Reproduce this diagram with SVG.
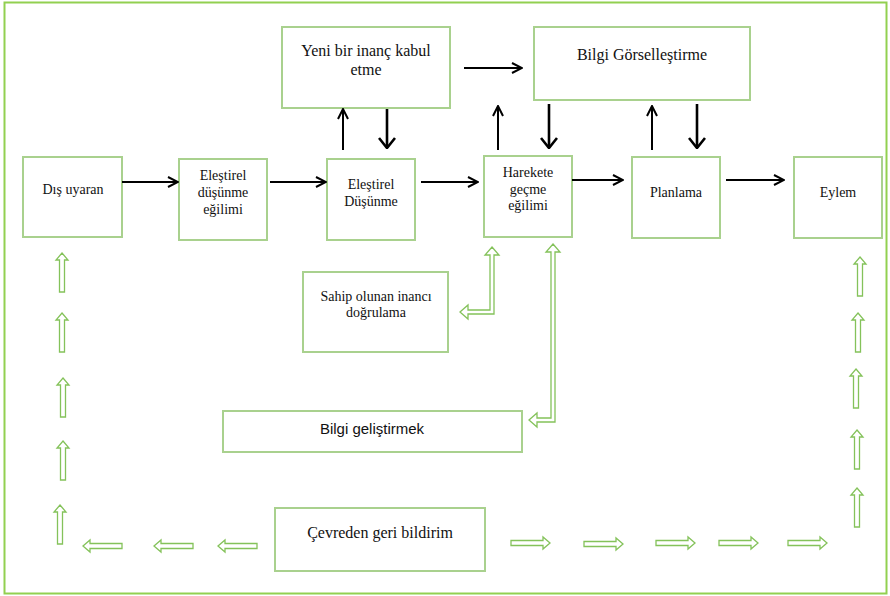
<svg xmlns="http://www.w3.org/2000/svg" width="890" height="596" viewBox="0 0 890 596">
  <style>
    .frame { fill: none; stroke: #92d050; stroke-width: 2; }
    .box { fill: #ffffff; stroke: #a9d18e; stroke-width: 2; }
    .t { font-family: "Liberation Serif", "Times New Roman", serif; font-size: 14px; fill: #111; text-anchor: middle; }
    .tl { font-family: "Liberation Serif", "Times New Roman", serif; font-size: 16px; fill: #111; text-anchor: middle; }
    .ts { font-family: "Liberation Sans", Arial, sans-serif; font-size: 15px; fill: #111; text-anchor: middle; }
    .link { stroke: #000; stroke-width: 2; fill: none; }
    .link-bold { stroke: #000; stroke-width: 2.6; fill: none; }
    .hollow { fill: #ffffff; stroke: #84c25a; stroke-width: 1.3; stroke-linejoin: miter; }
  </style>
  <defs>
    <marker id="head" viewBox="0 0 12 12" refX="11" refY="6" markerWidth="12" markerHeight="12" markerUnits="userSpaceOnUse" orient="auto">
      <path d="M1,1 L11,6 L1,11" fill="none" stroke="#000" stroke-width="2"/>
    </marker>
    <marker id="headBig" viewBox="0 0 12 18" refX="11" refY="9" markerWidth="12" markerHeight="18" markerUnits="userSpaceOnUse" orient="auto">
      <path d="M1,1 L11,9 L1,17" fill="none" stroke="#000" stroke-width="2.6"/>
    </marker>
    <!-- hollow block arrow, tip at origin pointing up -->
    <path id="ha" d="M0,0 L6,7 H2.5 V39 H-2.5 V7 H-6 Z"/>
  </defs>

  <rect class="frame" x="4.5" y="2.5" width="882" height="591"/>

  <g id="nodes">
    <g id="dis-uyaran">
      <rect class="box" x="23" y="157" width="99" height="80"/>
      <text class="t" x="73" y="194">Dış uyaran</text>
    </g>
    <g id="elestirel-dusunme-egilimi">
      <rect class="box" x="179" y="159" width="88" height="81"/>
      <text class="t" x="223" y="180">Eleştirel</text>
      <text class="t" x="223" y="197">düşünme</text>
      <text class="t" x="223" y="214">eğilimi</text>
    </g>
    <g id="yeni-inanc">
      <rect class="box" x="282" y="27" width="168" height="81"/>
      <text class="tl" x="366" y="56">Yeni bir inanç kabul</text>
      <text class="tl" x="366" y="75">etme</text>
    </g>
    <g id="elestirel-dusunme">
      <rect class="box" x="327" y="159" width="88" height="81"/>
      <text class="t" x="371" y="189">Eleştirel</text>
      <text class="t" x="371" y="206">Düşünme</text>
    </g>
    <g id="harekete-gecme">
      <rect class="box" x="484" y="156" width="88" height="81"/>
      <text class="t" x="528" y="177">Harekete</text>
      <text class="t" x="528" y="194">geçme</text>
      <text class="t" x="528" y="210">eğilimi</text>
    </g>
    <g id="bilgi-gorsellestirme">
      <rect class="box" x="534" y="27" width="216" height="73"/>
      <text class="tl" x="642" y="60">Bilgi Görselleştirme</text>
    </g>
    <g id="planlama">
      <rect class="box" x="632" y="157" width="88" height="81"/>
      <text class="t" x="676" y="197">Planlama</text>
    </g>
    <g id="eylem">
      <rect class="box" x="794" y="157" width="88" height="81"/>
      <text class="t" x="838" y="197">Eylem</text>
    </g>
    <g id="sahip-olunan-inanc">
      <rect class="box" x="303" y="272" width="145" height="80"/>
      <text class="t" x="376" y="301">Sahip olunan inancı</text>
      <text class="t" x="376" y="317">doğrulama</text>
    </g>
    <g id="bilgi-gelistirmek">
      <rect class="box" x="223" y="411" width="299" height="41"/>
      <text class="ts" x="372" y="434">Bilgi geliştirmek</text>
    </g>
    <g id="cevreden-geri-bildirim">
      <rect class="box" x="275" y="508" width="210" height="63"/>
      <text class="tl" x="380" y="538">Çevreden geri bildirim</text>
    </g>
  </g>

  <g id="connectors">
    <!-- main flow -->
    <line class="link" x1="122" y1="182" x2="178" y2="182" marker-end="url(#head)"/>
    <line class="link" x1="270" y1="182" x2="326" y2="182" marker-end="url(#head)"/>
    <line class="link" x1="421" y1="182" x2="478" y2="182" marker-end="url(#head)"/>
    <line class="link" x1="572" y1="180" x2="623" y2="180" marker-end="url(#head)"/>
    <line class="link" x1="726" y1="180" x2="784" y2="180" marker-end="url(#head)"/>
    <line class="link" x1="464" y1="68" x2="522" y2="68" marker-end="url(#head)"/>
    <!-- vertical exchanges -->
    <line class="link" x1="343" y1="150" x2="343" y2="109" marker-end="url(#head)"/>
    <line class="link-bold" x1="387" y1="109" x2="387" y2="148" marker-end="url(#headBig)"/>
    <line class="link" x1="498" y1="150" x2="498" y2="106" marker-end="url(#head)"/>
    <line class="link-bold" x1="549" y1="104" x2="549" y2="148" marker-end="url(#headBig)"/>
    <line class="link" x1="652" y1="150" x2="652" y2="106" marker-end="url(#head)"/>
    <line class="link-bold" x1="697" y1="104" x2="697" y2="148" marker-end="url(#headBig)"/>

    <!-- hollow elbow arrows -->
    <path class="hollow" d="M492,247 L499,255 H494 V314 H468 V319 L460,312 L468,305 V310 H490 V255 H485 Z"/>
    <path class="hollow" d="M553,244 L560,252 H555 V422 H537 V427 L529,420 L537,413 V418 H551 V252 H546 Z"/>

    <!-- feedback loop: left column (up) -->
    <use href="#ha" class="hollow" transform="translate(62,253)"/>
    <use href="#ha" class="hollow" transform="translate(62,313)"/>
    <use href="#ha" class="hollow" transform="translate(63,378)"/>
    <use href="#ha" class="hollow" transform="translate(63,441)"/>
    <use href="#ha" class="hollow" transform="translate(60,505)"/>
    <!-- feedback loop: bottom left (pointing left) -->
    <use href="#ha" class="hollow" transform="translate(83,546) rotate(-90)"/>
    <use href="#ha" class="hollow" transform="translate(154,546) rotate(-90)"/>
    <use href="#ha" class="hollow" transform="translate(218,546) rotate(-90)"/>
    <!-- feedback loop: bottom right (pointing right) -->
    <use href="#ha" class="hollow" transform="translate(550,543) rotate(90)"/>
    <use href="#ha" class="hollow" transform="translate(623,544) rotate(90)"/>
    <use href="#ha" class="hollow" transform="translate(695,543) rotate(90)"/>
    <use href="#ha" class="hollow" transform="translate(758,543) rotate(90)"/>
    <use href="#ha" class="hollow" transform="translate(827,543) rotate(90)"/>
    <!-- feedback loop: right column (up) -->
    <use href="#ha" class="hollow" transform="translate(860,257)"/>
    <use href="#ha" class="hollow" transform="translate(858,313)"/>
    <use href="#ha" class="hollow" transform="translate(856,369)"/>
    <use href="#ha" class="hollow" transform="translate(857,430)"/>
    <use href="#ha" class="hollow" transform="translate(857,488)"/>
  </g>
</svg>
